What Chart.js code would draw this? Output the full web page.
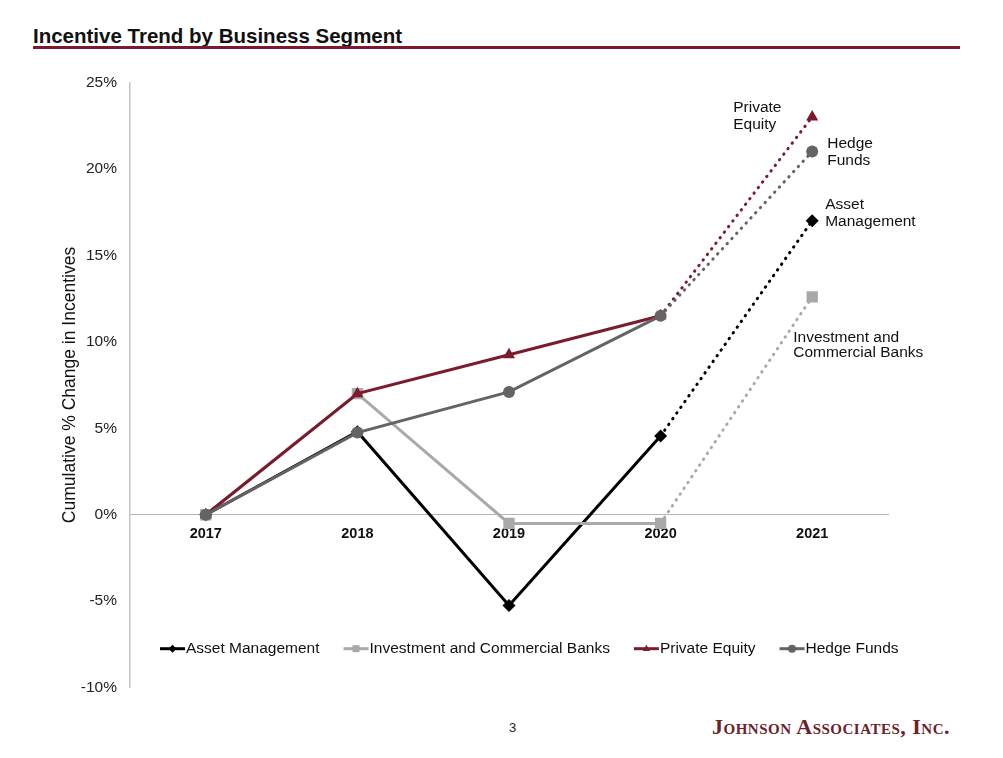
<!DOCTYPE html>
<html lang="en">
<head>
    <meta charset="UTF-8">
    <title>Incentive Trend by Business Segment</title>
    <style>
        html, body { margin: 0; padding: 0; background: #fff; }
        #page { position: relative; width: 1003px; height: 758px; overflow: hidden; font-family: "Liberation Sans", Arial, sans-serif; }
        .title { position: absolute; left: 33px; top: 24px; font-size: 20.5px; font-weight: bold; color: #111; }
        .rule { position: absolute; left: 33px; top: 46px; width: 927px; height: 3px; background: #7a1a2a; }
        .chart { position: absolute; left: 0; top: 60px; width: 940px; height: 650px; }
        .pageno { position: absolute; left: 509px; top: 720px; font-size: 13px; color: #222; }
        .brand { position: absolute; left: 712px; top: 714px; font-family: "Liberation Serif", "Times New Roman", serif; font-size: 22px; font-weight: bold; font-variant: small-caps; color: #6d2128; letter-spacing: 0.5px; }
    </style>
</head>
<body>
<div id="page">
    <div class="title">Incentive Trend by Business Segment</div>
    <div class="rule"></div>
    <div class="chart"><canvas id="trend_chart"></canvas></div>
    <div class="pageno">3</div>
    <div class="brand">Johnson Associates, Inc.</div>
</div>

<script src="https://cdn.jsdelivr.net/npm/chart.js"></script>
<script>
    // values (cumulative % change vs 2017)
    var years = ['2017', '2018', '2019', '2020', '2021'];
    var assetManagement = [0, 4.8, -5.25, 4.55, 17.0];
    var investmentBanks = [0, 7.0, -0.5, -0.5, 12.6];
    var privateEquity = [0, 7.0, 9.25, 11.5, 23.0];
    var hedgeFunds = [0, 4.75, 7.1, 11.5, 21.0];

    var seriesNames = ['Asset Management', 'Investment and Commercial Banks', 'Private Equity', 'Hedge Funds'];
    var endLabels = [['Asset', 'Management'], ['Investment and', 'Commercial Banks'], ['Private', 'Equity'], ['Hedge', 'Funds']];

    var yMin = -10;
    var yMax = 25;
    var yStep = 5;

    // look of each series
    var colors = ['#000000', '#a9a9a9', '#7d1a2c', '#646464'];
    var markers = ['rectRot', 'rect', 'triangle', 'circle'];
    var markerSizes = [6.5, 8, 7, 6];
    // where the end label sits relative to the 2021 point: [dx, dy first line, line gap]
    var labelOffsets = [[13, -16, 17], [-19, 41, 15], [-79, -9, 17], [15, -8, 17]];

    var FONT = '"Liberation Sans", Arial, sans-serif';
    var allSeries = [assetManagement, investmentBanks, privateEquity, hedgeFunds];
    var lastIndex = years.length - 1;

    var datasets = allSeries.map(function (values, i) {
        return {
            label: seriesNames[i],
            data: values,
            borderColor: colors[i],
            backgroundColor: colors[i],
            borderWidth: 3,
            borderCapStyle: 'round',
            pointStyle: markers[i],
            pointRadius: markerSizes[i],
            pointBorderWidth: 0,
            order: 4 - i,
            segment: {
                // last year is a projection: dotted
                borderDash: function (ctx) { return ctx.p1DataIndex === lastIndex ? [0.5, 6.5] : undefined; }
            }
        };
    });

    function drawMarker(ctx, style, x, y, r, color) {
        ctx.fillStyle = color;
        ctx.beginPath();
        if (style === 'circle') {
            ctx.arc(x, y, r, 0, Math.PI * 2);
        } else if (style === 'rect') {
            ctx.rect(x - r * 0.7, y - r * 0.7, r * 1.4, r * 1.4);
        } else if (style === 'rectRot') {
            ctx.moveTo(x, y - r); ctx.lineTo(x + r, y); ctx.lineTo(x, y + r); ctx.lineTo(x - r, y);
        } else {
            ctx.moveTo(x, y - r); ctx.lineTo(x + r * 0.9, y + r * 0.6); ctx.lineTo(x - r * 0.9, y + r * 0.6);
        }
        ctx.closePath();
        ctx.fill();
    }

    var annotations = {
        id: 'annotations',
        afterDraw: function (chart) {
            var ctx = chart.ctx;
            var area = chart.chartArea;
            ctx.save();
            ctx.font = '15.5px ' + FONT;
            ctx.textBaseline = 'middle';
            ctx.textAlign = 'left';
            ctx.fillStyle = '#111';

            // labels beside the 2021 points
            chart.data.datasets.forEach(function (ds, i) {
                var pt = chart.getDatasetMeta(i).data[lastIndex];
                var off = labelOffsets[i];
                endLabels[i].forEach(function (line, k) {
                    ctx.fillText(line, pt.x + off[0], pt.y + off[1] + k * off[2]);
                });
            });

            // legend inside the plot, near the bottom
            var lx = area.left + 30;
            var ly = area.bottom - 39;
            chart.data.datasets.forEach(function (ds, i) {
                ctx.strokeStyle = colors[i];
                ctx.lineWidth = 3;
                ctx.beginPath();
                ctx.moveTo(lx, ly);
                ctx.lineTo(lx + 25, ly);
                ctx.stroke();
                drawMarker(ctx, markers[i], lx + 12.5, ly, markers[i] === 'rect' ? 5 : 4, colors[i]);
                ctx.fillStyle = '#111';
                ctx.fillText(ds.label, lx + 26, ly);
                lx += 26 + ctx.measureText(ds.label).width + 24;
            });
            ctx.restore();
        }
    };

    new Chart(document.getElementById('trend_chart'), {
        type: 'line',
        data: { labels: years, datasets: datasets },
        options: {
            responsive: true,
            maintainAspectRatio: false,
            animation: false,
            layout: { padding: { top: 22, bottom: 22, left: 0, right: 52 } },
            plugins: {
                legend: { display: false },
                tooltip: { enabled: false }
            },
            scales: {
                x: {
                    position: { y: 0 },
                    offset: true,
                    z: 1,
                    grid: { display: false, drawTicks: false },
                    border: { display: true, color: '#b4b4b4', width: 1 },
                    ticks: { color: '#111', padding: 11, font: { family: FONT, size: 14.5, weight: 'bold' } }
                },
                y: {
                    min: yMin,
                    max: yMax,
                    grid: { display: false, drawTicks: false },
                    border: { display: true, color: '#c4c4c4', width: 1.5 },
                    ticks: {
                        stepSize: yStep,
                        padding: 13,
                        color: '#222',
                        font: { family: FONT, size: 15.5 },
                        callback: function (v) { return v + '%'; }
                    },
                    title: {
                        display: true,
                        text: 'Cumulative % Change in Incentives',
                        color: '#111',
                        font: { family: FONT, size: 17.5 },
                        padding: { top: 60, bottom: 0 }
                    },
                    afterFit: function (scale) { scale.width = 130; }
                }
            }
        },
        plugins: [annotations]
    });
</script>
</body>
</html>
